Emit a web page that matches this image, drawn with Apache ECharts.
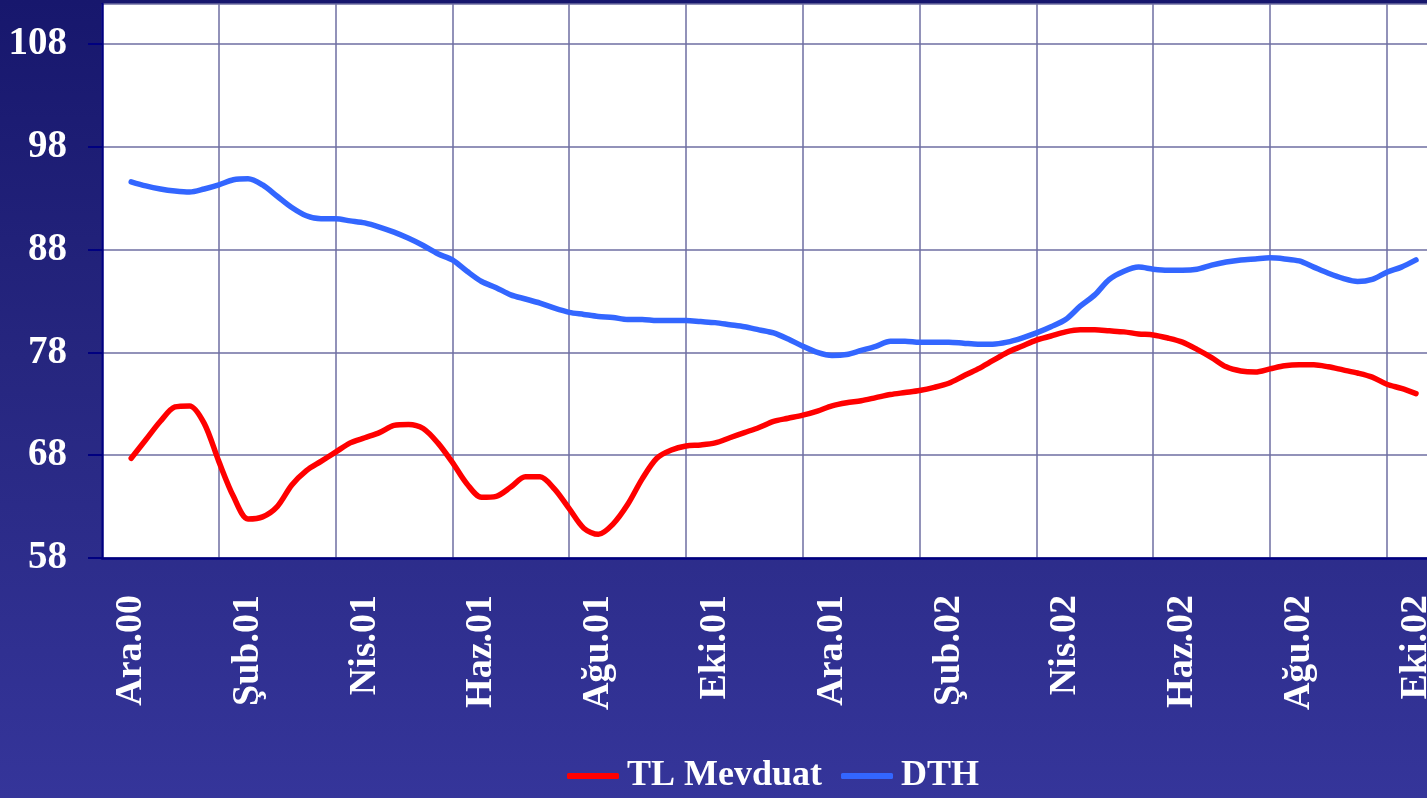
<!DOCTYPE html>
<html>
<head>
<meta charset="utf-8">
<script src="https://cdn.jsdelivr.net/npm/echarts@6/dist/echarts.min.js"></script>
<style>
  html, body { margin: 0; padding: 0; }
  body { background: linear-gradient(to bottom, #17176d 0%, #26267f 45%, #35359a 100%); }
  #chart { width: 1427px; height: 798px; }
</style>
</head>
<body>
<div id="chart"></div>
<script>
// aylık kategori etiketleri (her ikisinden biri gösteriliyor)
var months = ['Ara.00', 'Oca.01', 'Şub.01', 'Mar.01', 'Nis.01', 'May.01', 'Haz.01', 'Tem.01',
  'Ağu.01', 'Eyl.01', 'Eki.01', 'Kas.01', 'Ara.01', 'Oca.02', 'Şub.02', 'Mar.02',
  'Nis.02', 'May.02', 'Haz.02', 'Tem.02', 'Ağu.02', 'Eyl.02', 'Eki.02'];

// haftalık gözlemler, Aralık 2000 ortasından başlayarak (çeyrek ay adımlı)
var weekStart = 0.5, weekStep = 0.25;

var tlMevduat = [
  67.7, 69.5, 71.3, 72.7, 72.8, 71.1, 67.4, 64.0, 61.8, 62.0,
  63.0, 65.1, 66.5, 67.4, 68.3, 69.2, 69.7, 70.2, 70.9, 71.0,
  70.6, 69.2, 67.3, 65.2, 63.9, 64.0, 64.9, 65.9, 65.9, 64.7,
  62.8, 60.9, 60.3, 61.3, 63.2, 65.7, 67.7, 68.5, 68.9, 69.0,
  69.2, 69.7, 70.2, 70.7, 71.3, 71.6, 71.9, 72.3, 72.8, 73.1,
  73.3, 73.6, 73.9, 74.1, 74.3, 74.6, 75.0, 75.7, 76.4, 77.2,
  78.0, 78.6, 79.2, 79.6, 80.0, 80.2, 80.2, 80.1, 80.0, 79.8,
  79.7, 79.4, 79.0, 78.3, 77.5, 76.6, 76.2, 76.1, 76.4, 76.7,
  76.8, 76.8, 76.6, 76.3, 76.0, 75.6, 74.9, 74.5, 74.0
];

var dth = [
  94.6, 94.2, 93.9, 93.7, 93.6, 93.9, 94.3, 94.8, 94.9, 94.3,
  93.2, 92.1, 91.3, 91.0, 91.0, 90.8, 90.6, 90.2, 89.7, 89.1,
  88.4, 87.6, 87.0, 85.9, 84.9, 84.3, 83.6, 83.2, 82.8, 82.3,
  81.9, 81.7, 81.5, 81.4, 81.2, 81.2, 81.1, 81.1, 81.1, 81.0,
  80.9, 80.7, 80.5, 80.2, 79.9, 79.3, 78.6, 78.0, 77.7, 77.8,
  78.2, 78.6, 79.1, 79.1, 79.0, 79.0, 79.0, 78.9, 78.8, 78.8,
  79.0, 79.4, 79.9, 80.5, 81.2, 82.5, 83.6, 85.1, 85.9, 86.3,
  86.1, 86.0, 86.0, 86.1, 86.5, 86.8, 87.0, 87.1, 87.2, 87.1,
  86.9, 86.3, 85.7, 85.2, 84.9, 85.1, 85.8, 86.3, 87.0
];

var yMin = 58, yMax = 111.9, yStep = 10;

function toPairs(values) {
  return values.map(function (v, i) {
    return [weekStart + i * weekStep, v];
  });
}

var chart = echarts.init(document.getElementById('chart'));
var serif = '"Liberation Serif", "DejaVu Serif", serif';

var option = {
  backgroundColor: 'transparent',
  animation: false,
  grid: {
    left: 102,
    top: 4,
    width: months.length * 58.4,
    height: 554,
    outerBoundsMode: 'none',
    containLabel: false,
    show: true,
    backgroundColor: '#ffffff',
    borderWidth: 0
  },
  legend: {
    left: 562,
    top: 753,
    itemWidth: 52,
    itemHeight: 6,
    itemGap: 19,
    icon: 'roundRect',
    textStyle: {
      color: '#ffffff',
      fontFamily: serif,
      fontWeight: 'bold',
      fontSize: 36,
      padding: [0, 0, 0, 3]
    },
    data: ['TL Mevduat', 'DTH']
  },
  xAxis: [
    {
      type: 'category',
      data: months,
      boundaryGap: true,
      axisLine: { lineStyle: { color: '#000080', width: 2.5 } },
      axisTick: { interval: 1, length: 14, lineStyle: { color: '#000080', width: 2 } },
      axisLabel: {
        interval: 1,
        rotate: 90,
        margin: 37,
        color: '#ffffff',
        fontFamily: serif,
        fontWeight: 'bold',
        fontSize: 38
      },
      splitLine: { show: true, interval: 1, lineStyle: { color: '#6e6ea2', width: 1.5 } }
    },
    {
      type: 'value',
      min: 0,
      max: months.length,
      show: false,
      splitLine: { show: false }
    }
  ],
  yAxis: {
    type: 'value',
    min: yMin,
    max: yMax,
    interval: yStep,
    axisLine: { show: true, lineStyle: { color: '#000080', width: 2.5 } },
    axisTick: { show: true, length: 14, lineStyle: { color: '#000080', width: 2 } },
    axisLabel: {
      showMaxLabel: false,
      margin: 35,
      color: '#ffffff',
      fontFamily: serif,
      fontWeight: 'bold',
      fontSize: 39
    },
    splitLine: { show: true, lineStyle: { color: '#6e6ea2', width: 1.5 } }
  },
  series: [
    {
      name: 'TL Mevduat',
      type: 'line',
      xAxisIndex: 1,
      data: toPairs(tlMevduat),
      symbol: 'none',
      smooth: 0.3,
      color: '#ff0000',
      lineStyle: { color: '#ff0000', width: 5.5, cap: 'round' }
    },
    {
      name: 'DTH',
      type: 'line',
      xAxisIndex: 1,
      data: toPairs(dth),
      symbol: 'none',
      smooth: 0.3,
      color: '#3366ff',
      lineStyle: { color: '#3366ff', width: 5.5, cap: 'round' }
    }
  ]
};

chart.setOption(option);
</script>
</body>
</html>
